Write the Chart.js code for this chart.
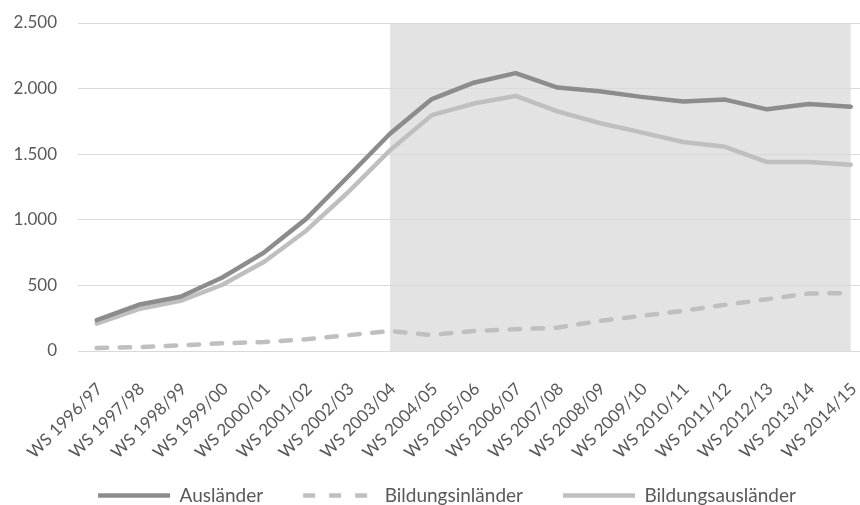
<!DOCTYPE html>
<html>
<head>
<meta charset="utf-8">
<script src="https://cdn.jsdelivr.net/npm/chart.js@4"></script>
<style>
html,body{margin:0;padding:0;background:#fff;}
#wrap{width:860px;height:505px;position:relative;}
</style>
</head>
<body>
<div id="wrap"><canvas id="c" width="860" height="505"></canvas></div>
<script>
const categories = ["WS 1996/97","WS 1997/98","WS 1998/99","WS 1999/00","WS 2000/01","WS 2001/02","WS 2002/03","WS 2003/04","WS 2004/05","WS 2005/06","WS 2006/07","WS 2007/08","WS 2008/09","WS 2009/10","WS 2010/11","WS 2011/12","WS 2012/13","WS 2013/14","WS 2014/15"];
const auslaender = [235,352,413,560,752,1007,1330,1656,1920,2045,2118,2008,1980,1937,1901,1916,1842,1883,1862];
const bildungsinlaender = [22,30,43,59,69,89,120,153,122,153,166,178,229,268,306,352,395,438,441];
const bildungsauslaender = [209,319,382,505,680,917,1210,1529,1798,1886,1944,1827,1738,1666,1593,1556,1440,1440,1420];
const yTicks = [0,500,1000,1500,2000,2500];
const shadeFrom = "WS 2003/04";
const shadeTo = "WS 2014/15";

const FONT = "Lato, 'Liberation Sans', sans-serif";
const toXY = arr => arr.map((v,i)=>({x:i,y:v}));
const fmt = v => String(v).replace(/\B(?=(\d{3})+(?!\d))/g,'.');

const shadePlugin = {
  id:'shade',
  beforeDraw(chart){
    const xs = chart.scales.x, ys = chart.scales.y, ctx = chart.ctx;
    const x0 = xs.getPixelForValue(categories.indexOf(shadeFrom));
    const x1 = xs.getPixelForValue(categories.indexOf(shadeTo));
    const y0 = ys.getPixelForValue(yTicks[yTicks.length-1]);
    const y1 = ys.getPixelForValue(0);
    ctx.save();
    ctx.fillStyle = '#e3e3e3';
    ctx.fillRect(x0, y0, x1-x0, y1-y0);
    ctx.restore();
  }
};

const legendShift = {
  id:'legendShift',
  afterLayout(chart){
    const lg = chart.legend;
    if(!lg) return;
    lg.left += 17; lg.right += 17;
    lg.top -= 50; lg.bottom -= 50;
  }
};

new Chart(document.getElementById('c'), {
  type:'line',
  data:{
    datasets:[
      {label:'Ausländer', data:toXY(auslaender), borderColor:'#8c8c8c', backgroundColor:'#8c8c8c', borderWidth:4.5, pointRadius:0, tension:0, borderCapStyle:'round', borderJoinStyle:'round', pointStyle:'line'},
      {label:'Bildungsinländer', data:toXY(bildungsinlaender), borderColor:'#bfbfbf', backgroundColor:'#bfbfbf', borderWidth:4.5, borderDash:[10.5,12.5], pointRadius:0, tension:0, borderCapStyle:'round', borderJoinStyle:'round', pointStyle:'line'},
      {label:'Bildungsausländer', data:toXY(bildungsauslaender), borderColor:'#bfbfbf', backgroundColor:'#bfbfbf', borderWidth:4.5, pointRadius:0, tension:0, borderCapStyle:'round', borderJoinStyle:'round', pointStyle:'line'}
    ]
  },
  plugins:[shadePlugin, legendShift],
  options:{
    responsive:false,
    animation:false,
    devicePixelRatio:1,
    layout:{padding:{left:0,right:0,top:23,bottom:-60}},
    plugins:{
      tooltip:{enabled:false},
      legend:{
        position:'bottom',
        labels:{
          usePointStyle:true,
          pointStyleWidth:72,
          boxHeight:19,
          padding:40,
          color:'#595959',
          font:{family:FONT,size:19},
          generateLabels(chart){
            const items = Chart.defaults.plugins.legend.labels.generateLabels(chart);
            items.forEach(it=>{
              const ds = chart.data.datasets[it.datasetIndex];
              it.lineWidth = 4.5;
              it.lineCap = 'butt';
              it.lineDash = ds.borderDash ? [12,14] : [];
              it.strokeStyle = ds.borderColor;
              it.fillStyle = ds.borderColor;
            });
            return items;
          }
        }
      }
    },
    scales:{
      x:{
        type:'linear',
        min:-0.446,
        max:18.22,
        grid:{display:false,drawTicks:false},
        border:{display:false},
        afterFit(s){ s.height = 145; s.paddingLeft = 0; s.paddingRight = 0; },
        ticks:{
          stepSize:1,
          includeBounds:false,
          autoSkip:false,
          maxRotation:45,
          minRotation:45,
          padding:28,
          labelOffset:3,
          color:'#595959',
          font:{family:FONT,size:17},
          callback:v => categories[v] ?? ''
        }
      },
      y:{
        min:0,
        max:2500,
        afterFit(s){ s.width = 78; s.paddingTop = 0; s.paddingBottom = 0; },
        afterBuildTicks(s){ s.ticks = yTicks.map(v=>({value:v})); },
        grid:{color:'#d9d9d9',lineWidth:1,drawTicks:false},
        border:{display:false},
        ticks:{
          padding:21,
          color:'#595959',
          font:{family:FONT,size:17},
          callback:v => fmt(v)
        }
      }
    }
  }
});
</script>
</body>
</html>
